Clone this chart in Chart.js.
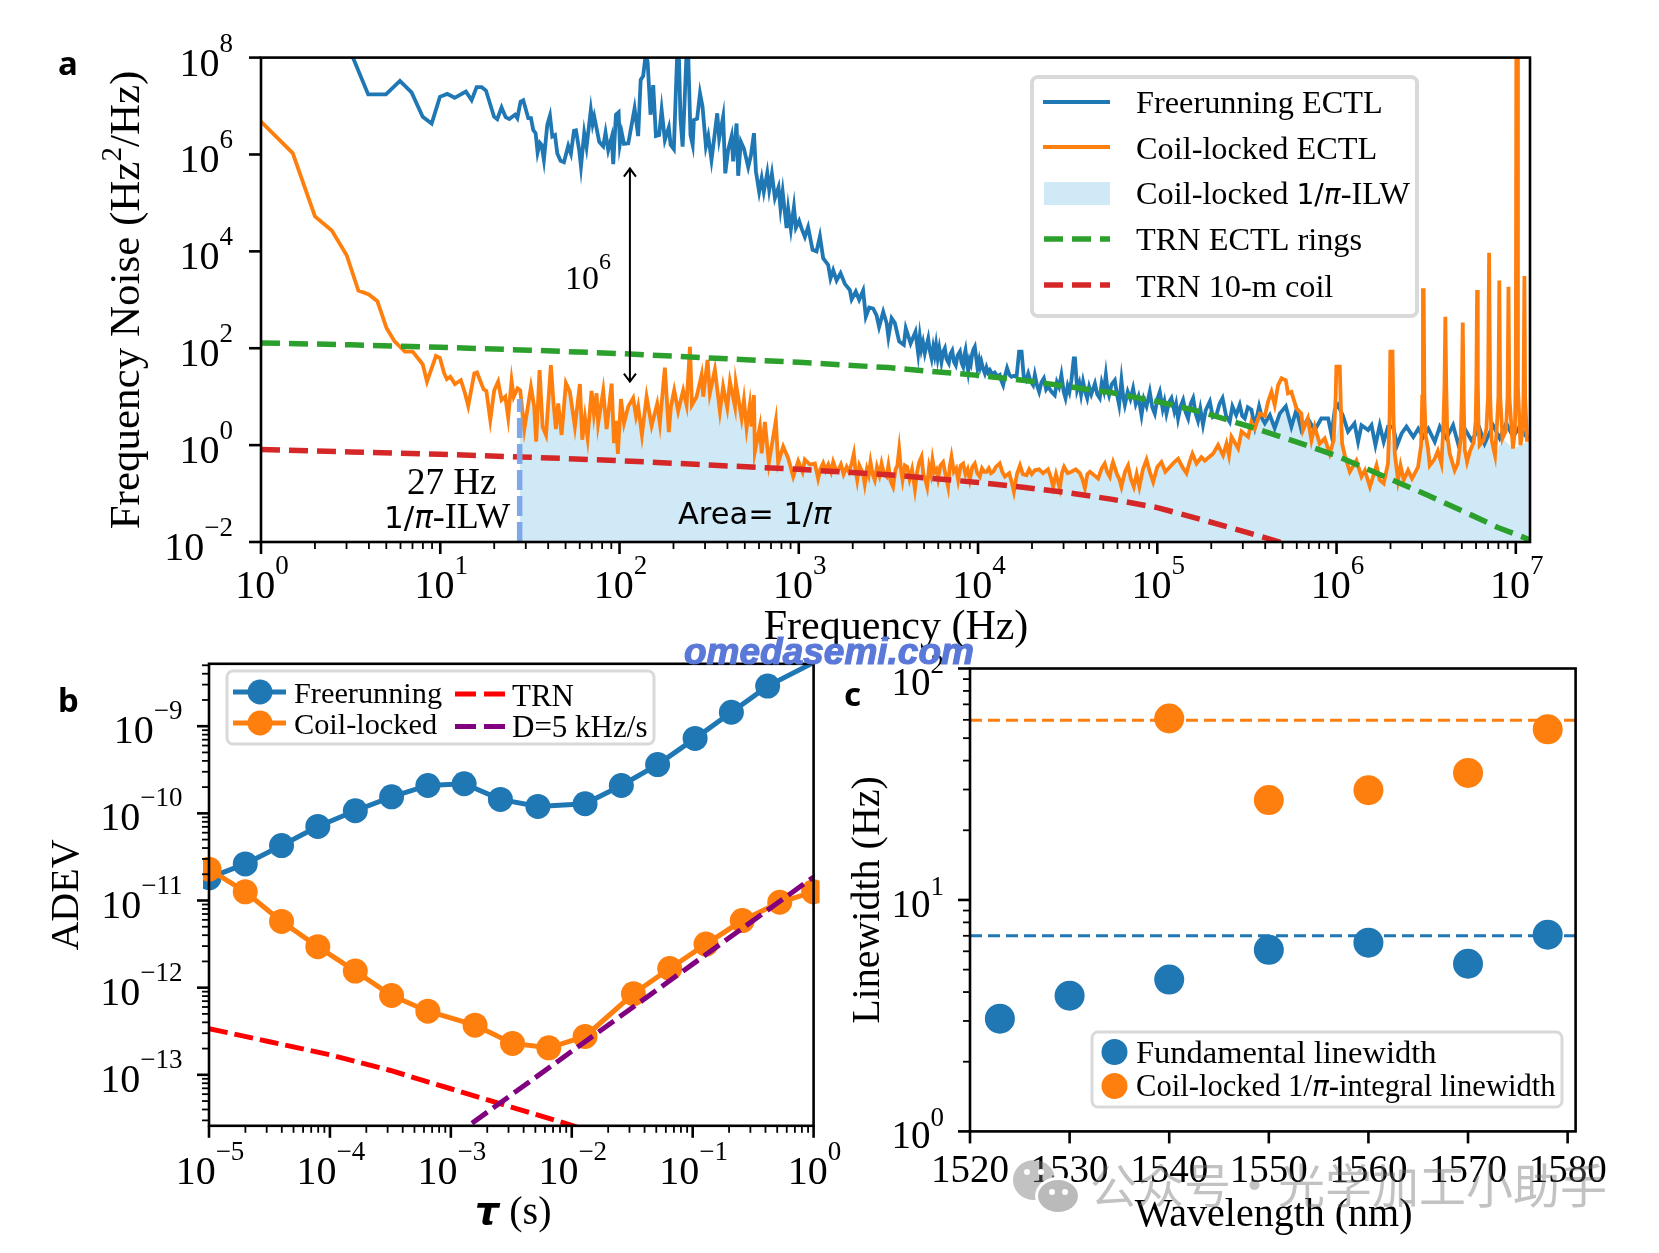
<!DOCTYPE html>
<html><head><meta charset="utf-8">
<style>html,body{margin:0;padding:0;background:#fff;width:1659px;height:1253px;overflow:hidden}
canvas{position:absolute;left:0;top:0}</style>
<script src="https://cdn.jsdelivr.net/npm/chart.js@4"></script>
</head><body>
<canvas id="ca" width="1659" height="1253"></canvas>
<canvas id="cb" width="1659" height="1253"></canvas>
<canvas id="cc" width="1659" height="1253"></canvas>
<script>
// ---------- Panel a: pairs of [log10 frequency (Hz), log10 noise (Hz^2/Hz)]
const freerunningA=[[0.47,8.38],[0.515,7.98],[0.598,7.24],[0.697,7.24],[0.775,7.52],[0.84,7.28],[0.902,6.78],[0.952,6.64],[0.998,7.19],[1.039,7.25],[1.08,7.17],[1.143,7.3],[1.175,7.12],[1.203,7.39],[1.231,7.39],[1.255,7.32],[1.3,6.78],[1.318,6.73],[1.342,6.97],[1.365,6.77],[1.385,6.73],[1.417,6.82],[1.43,6.75],[1.448,7.09],[1.463,7.12],[1.491,6.75],[1.506,6.75],[1.519,6.5],[1.532,6.44],[1.543,6.04],[1.556,6.24],[1.565,6.2],[1.578,5.89],[1.597,6.61],[1.612,6.8],[1.625,6.37],[1.64,6.4],[1.653,6.02],[1.671,5.87],[1.69,5.84],[1.714,6.18],[1.729,6.02],[1.746,6.49],[1.757,6.5],[1.775,6.09],[1.785,5.75],[1.803,6.44],[1.816,6.15],[1.84,6.92],[1.85,6.63],[1.859,6.78],[1.887,6.26],[1.909,6.17],[1.922,6.45],[1.937,6.09],[1.956,6.35],[1.965,5.8],[1.98,6.82],[1.995,6.87],[2.002,6.21],[2.013,6.44],[2.025,6.22],[2.049,6.23],[2.084,6.95],[2.104,6.38],[2.118,7.54],[2.132,7.62],[2.147,8.1],[2.157,7.9],[2.173,6.82],[2.188,7.43],[2.203,6.38],[2.221,6.4],[2.235,6.92],[2.253,6.3],[2.275,6.56],[2.285,6.2],[2.303,6.11],[2.322,8.1],[2.331,8.1],[2.34,6.75],[2.352,6.16],[2.362,7.0],[2.374,8.1],[2.383,8.1],[2.396,6.4],[2.408,6.2],[2.415,6.71],[2.433,6.74],[2.449,7.26],[2.463,6.99],[2.482,6.17],[2.495,6.38],[2.513,5.89],[2.527,6.3],[2.545,6.85],[2.556,6.33],[2.578,6.78],[2.59,5.61],[2.606,6.09],[2.625,6.37],[2.634,5.86],[2.653,6.64],[2.662,5.56],[2.677,6.26],[2.694,6.12],[2.718,5.74],[2.733,5.98],[2.75,6.44],[2.761,5.65],[2.779,5.23],[2.793,5.51],[2.805,5.23],[2.824,5.62],[2.835,5.27],[2.85,5.6],[2.867,5.1],[2.887,5.32],[2.898,4.89],[2.91,5.23],[2.932,4.48],[2.941,4.87],[2.956,4.46],[2.973,4.92],[2.984,4.49],[3.002,4.63],[3.016,4.47],[3.034,4.3],[3.052,4.5],[3.077,4.03],[3.099,4.0],[3.118,4.31],[3.136,3.86],[3.164,3.72],[3.177,3.44],[3.192,3.61],[3.211,3.4],[3.233,3.55],[3.257,3.33],[3.285,3.2],[3.295,3.01],[3.318,3.17],[3.337,3.0],[3.359,3.19],[3.374,2.65],[3.393,2.84],[3.415,2.82],[3.434,2.68],[3.448,2.44],[3.471,2.75],[3.49,2.52],[3.5,2.23],[3.518,2.62],[3.536,2.52],[3.56,2.14],[3.586,2.07],[3.597,2.41],[3.624,2.1],[3.651,2.34],
[3.666,1.9],[3.675,2.24],[3.684,1.98],[3.693,2.12],[3.703,1.9],[3.712,2.05],[3.722,2.2],[3.731,1.95],[3.741,1.79],[3.75,2.02],[3.758,1.86],[3.766,2.07],[3.775,1.8],[3.784,2.0],[3.796,1.72],[3.805,1.92],[3.815,2.0],[3.824,1.78],[3.837,1.69],[3.846,1.88],[3.856,1.95],[3.866,1.72],[3.876,1.65],[3.886,1.85],[3.899,1.93],[3.908,1.7],[3.917,1.62],[3.925,1.88],[3.93,1.96],[3.938,1.7],[3.945,1.52],[3.953,1.75],[3.96,1.68],[3.968,1.9],[3.975,1.98],[3.982,2.03],[3.99,1.8],[3.997,1.59],[4.006,1.75],[4.012,1.62],[4.019,1.72],[4.028,1.58],[4.038,1.48],[4.047,1.6],[4.056,1.5],[4.066,1.55],[4.08,1.46],[4.093,1.5],[4.108,1.42],[4.121,1.45],[4.13,1.33],[4.14,1.24],[4.15,1.42],[4.162,1.59],[4.175,1.45],[4.187,1.41],[4.2,1.43],[4.215,1.41],[4.229,1.93],[4.243,1.93],[4.255,1.41],[4.268,1.34],[4.28,1.48],[4.293,1.32],[4.307,1.24],[4.317,1.45],[4.33,1.22],[4.341,1.1],[4.354,1.3],[4.367,1.38],[4.38,1.15],[4.391,1.21],[4.41,1.1],[4.428,1.03],[4.44,1.3],[4.452,1.2],[4.465,1.45],[4.478,1.1],[4.488,0.97],[4.5,1.22],[4.51,1.1],[4.521,1.34],[4.534,1.79],[4.541,1.79],[4.553,1.14],[4.565,1.28],[4.575,1.05],[4.586,1.31],[4.598,1.1],[4.609,0.97],[4.62,1.2],[4.632,1.05],[4.652,1.27],[4.665,1.05],[4.679,0.97],[4.69,1.28],[4.702,1.12],[4.713,1.45],[4.722,1.15],[4.731,1.03],[4.745,1.25],[4.763,1.34],[4.775,1.05],[4.787,0.83],[4.8,1.34],[4.81,1.0],[4.819,0.83],[4.835,1.1],[4.85,0.95],[4.865,1.17],[4.88,0.85],[4.895,1.0],[4.912,0.62],[4.925,0.95],[4.94,0.8],[4.958,1.1],[4.972,0.78],[4.986,0.65],[5.0,0.95],[5.014,1.1],[5.03,0.75],[5.04,0.9],[5.051,0.65],[5.065,0.88],[5.079,0.97],[5.095,0.7],[5.105,0.85],[5.116,0.55],[5.13,0.8],[5.144,0.93],[5.158,0.68],[5.172,0.55],[5.186,0.85],[5.2,0.97],[5.214,0.65],[5.227,0.5],[5.24,0.75],[5.255,0.42],[5.27,0.72],[5.293,0.9],[5.31,0.58],[5.33,0.62],[5.347,0.85],[5.364,0.97],[5.384,0.6],[5.404,0.48],[5.419,0.8],[5.44,0.62],[5.46,0.83],[5.474,0.6],[5.488,0.55],[5.505,0.78],[5.525,0.73],[5.544,0.38],[5.568,0.8],[5.585,0.55],[5.6,0.45],
[5.628,0.62],[5.655,0.35],[5.683,0.65],[5.717,0.8],[5.748,0.38],[5.776,0.73],[5.804,0.31],[5.84,0.55],[5.878,0.31],[5.915,0.55],[5.953,0.55],[5.972,0.21],[5.99,0.73],[6.008,0.83],[6.036,0.6],[6.064,0.28],[6.1,0.45],[6.12,0.07],[6.139,0.41],[6.176,0.31],[6.195,0.41],[6.217,0.0],[6.241,0.41],[6.263,0.07],[6.287,0.38],[6.315,0.38],[6.338,0.0],[6.363,0.24],[6.39,0.38],[6.428,0.17],[6.456,0.34],[6.484,0.17],[6.512,0.34],[6.548,0.07],[6.576,0.38],[6.613,0.14],[6.65,0.41],[6.678,0.03],[6.715,0.34],[6.752,0.1],[6.798,0.34],[6.826,0.03],[6.873,0.41],[6.91,0.14],[6.947,0.45],[6.985,0.17],[7.02,0.38],[7.06,0.17],[7.07,0.2]];
const coilLockedA=[[0,6.68],[0.177,6.03],[0.301,4.72],[0.395,4.43],[0.478,3.92],[0.543,3.19],[0.602,3.11],[0.649,2.97],[0.7,2.42],[0.744,2.15],[0.803,1.93],[0.846,1.93],[0.902,1.67],[0.926,1.31],[0.976,1.84],[0.998,1.8],[1.022,1.48],[1.037,1.36],[1.056,1.41],[1.082,1.26],[1.115,1.34],[1.138,1.07],[1.156,0.81],[1.19,1.48],[1.205,1.5],[1.242,1.15],[1.257,1.12],[1.279,0.52],[1.301,1.13],[1.323,1.31],[1.342,0.93],[1.363,1.0],[1.379,0.57],[1.398,1.33],[1.41,1.0],[1.431,1.17],[1.446,1.13],[1.469,0.33],[1.506,1.2],[1.524,0.8],[1.535,0.07],[1.554,1.55],[1.571,0.38],[1.59,0.21],[1.617,1.65],[1.632,0.86],[1.645,0.33],[1.658,0.86],[1.677,0.21],[1.701,1.28],[1.723,1.1],[1.751,0.38],[1.779,1.26],[1.792,0.11],[1.807,0.57],[1.822,0.15],[1.844,1.12],[1.857,0.64],[1.872,1.07],[1.881,0.45],[1.909,1.12],[1.928,0.33],[1.956,1.27],[1.969,0.04],[1.98,0.5],[1.991,-0.18],[2.008,0.95],[2.025,0.45],[2.049,0.8],[2.076,0.97],[2.092,0.6],[2.104,0.8],[2.125,0.21],[2.151,1.0],[2.179,0.4],[2.21,0.85],[2.225,0.45],[2.253,1.6],[2.275,0.27],[2.287,0.8],[2.305,1.13],[2.327,0.7],[2.355,1.13],[2.374,0.83],[2.393,2.03],[2.404,0.83],[2.43,1.0],[2.458,1.45],[2.467,1.0],[2.491,1.76],[2.504,1.07],[2.532,1.56],[2.56,0.7],[2.578,1.21],[2.601,0.77],[2.616,1.31],[2.644,0.8],[2.649,1.28],[2.681,0.56],[2.694,0.93],[2.709,0.35],[2.727,0.83],[2.737,0.38],[2.75,1.03],[2.755,-0.14],[2.783,0.38],[2.793,-0.17],[2.811,0.48],[2.833,-0.37],[2.872,0.5],[2.885,-0.37],[2.913,-0.03],[2.941,-0.27],[2.969,-0.65],[2.997,-0.33],[3.021,-0.55],[3.034,-0.3],[3.062,-0.4],[3.09,-0.38],
[3.108,-0.69],[3.12,-0.5],[3.136,-0.37],[3.15,-0.52],[3.165,-0.4],[3.18,-0.55],[3.192,-0.35],[3.206,-0.5],[3.22,-0.52],[3.235,-0.4],[3.25,-0.6],[3.267,-0.45],[3.28,-0.55],[3.295,-0.38],[3.307,-0.18],[3.316,-0.5],[3.326,-0.72],[3.338,-0.42],[3.35,-0.52],[3.36,-0.62],[3.368,-0.8],[3.38,-0.5],[3.39,-0.62],[3.4,-0.35],[3.412,-0.6],[3.424,-0.72],[3.436,-0.45],[3.45,-0.62],[3.462,-0.38],[3.476,-0.6],[3.49,-0.65],[3.5,-0.42],[3.513,-0.75],[3.526,-0.86],[3.54,-0.5],[3.55,-0.42],[3.56,-0.09],[3.57,-0.5],[3.579,-0.72],[3.592,-0.42],[3.605,-0.45],[3.618,-0.7],[3.632,-0.5],[3.648,-0.91],[3.66,-0.55],[3.672,-0.35],[3.685,-0.24],[3.695,-0.6],[3.705,-0.7],[3.716,-0.86],[3.727,-0.45],[3.737,-0.6],[3.746,-0.3],[3.757,-0.55],[3.767,-0.5],[3.777,-0.69],[3.79,-0.42],[3.805,-0.35],[3.818,-0.6],[3.833,-0.86],[3.842,-0.45],[3.852,-0.24],[3.865,-0.55],[3.878,-0.48],[3.889,-0.72],[3.903,-0.42],[3.917,-0.38],[3.93,-0.6],[3.942,-0.5],[3.954,-0.72],[3.968,-0.45],[3.982,-0.38],[3.996,-0.58],[4.01,-0.65],[4.022,-0.48],[4.035,-0.55],[4.048,-0.55],[4.06,-0.48],[4.072,-0.58],[4.085,-0.55],[4.1,-0.45],[4.121,-0.38],[4.135,-0.55],[4.15,-0.65],[4.174,-0.58],[4.187,-0.75],[4.2,-0.96],[4.217,-0.6],[4.234,-0.42],[4.25,-0.6],[4.27,-0.62],[4.285,-0.5],[4.3,-0.6],[4.317,-0.52],[4.34,-0.5],[4.363,-0.58],[4.39,-0.5],[4.405,-0.65],[4.419,-0.86],[4.435,-0.6],[4.456,-0.89],[4.468,-0.58],[4.48,-0.45],[4.5,-0.58],[4.521,-0.55],[4.545,-0.5],[4.568,-0.58],[4.582,-0.7],[4.596,-0.89],[4.61,-0.6],[4.624,-0.55],[4.647,-0.62],[4.67,-0.69],[4.69,-0.48],[4.707,-0.38],[4.72,-0.55],[4.735,-0.65],[4.745,-0.45],[4.753,-0.35],[4.775,-0.6],[4.788,-0.7],[4.8,-0.86],[4.82,-0.55],[4.837,-0.42],[4.853,-0.7],[4.869,-0.86],[4.885,-0.6],[4.9,-0.86],[4.92,-0.5],[4.94,-0.3],[4.958,-0.55],[4.977,-0.76],[5.0,-0.45],[5.023,-0.35],[5.045,-0.55],[5.07,-0.45],[5.095,-0.35],[5.116,-0.28],[5.14,-0.45],[5.163,-0.58],[5.18,-0.35],[5.196,-0.18],
[5.219,-0.38],[5.246,-0.25],[5.265,-0.32],[5.311,-0.18],[5.339,0.0],[5.367,-0.21],[5.386,0.03],[5.4,-0.21],[5.414,0.17],[5.451,-0.07],[5.47,0.28],[5.507,0.17],[5.525,0.48],[5.544,0.34],[5.572,0.65],[5.6,0.6],[5.618,0.9],[5.637,1.1],[5.655,0.83],[5.674,1.24],[5.693,1.38],[5.717,1.34],[5.729,1.07],[5.748,1.1],[5.776,0.76],[5.804,0.65],[5.813,0.31],[5.84,0.55],[5.86,0.1],[5.878,0.38],[5.906,0.03],[5.934,0.14],[5.962,-0.18],[5.984,0.1],[5.995,1.0],[5.999,1.62],[6.018,1.62],[6.024,0.8],[6.031,0.03],[6.046,-0.21],[6.074,-0.55],[6.111,-0.32],[6.139,-0.65],[6.158,-0.52],[6.186,-0.86],[6.223,-0.42],[6.241,-0.72],[6.263,-0.79],[6.287,-0.38],[6.296,0.6],[6.3,1.93],[6.312,1.93],[6.318,0.5],[6.325,-0.18],[6.343,-0.72],[6.357,-0.42],[6.375,-0.72],[6.399,-0.52],[6.421,-0.69],[6.455,-0.45],[6.472,0.0],[6.478,1.0],[6.482,3.2],[6.486,3.2],[6.49,1.0],[6.497,0.2],[6.51,-0.07],[6.52,-0.42],[6.545,-0.3],[6.565,-0.12],[6.585,-0.38],[6.595,0.3],[6.602,1.2],[6.607,2.65],[6.612,1.2],[6.618,0.2],[6.631,-0.17],[6.659,-0.52],[6.676,-0.38],[6.692,0.1],[6.699,1.0],[6.704,2.53],[6.709,1.0],[6.715,-0.1],[6.728,-0.35],[6.743,-0.14],[6.766,0.07],[6.776,0.5],[6.78,1.3],[6.784,3.2],[6.788,1.3],[6.792,0.4],[6.798,0.0],[6.82,0.1],[6.836,0.34],[6.845,1.0],[6.851,3.97],[6.857,1.0],[6.865,0.1],[6.884,-0.21],[6.893,0.3],[6.903,1.0],[6.908,3.4],[6.913,1.0],[6.926,0.14],[6.945,0.3],[6.954,1.0],[6.959,3.27],[6.964,1.0],[6.984,-0.07],[6.995,0.3],[7.0,1.5],[7.003,8.5],[7.007,8.5],[7.012,1.2],[7.026,0.0],[7.038,0.3],[7.043,1.0],[7.048,3.49],[7.052,1.0],[7.063,0.07]];
const fillTailA=[[5.6,0.45],[5.628,0.62],[5.655,0.35],[5.683,0.65],[5.717,0.8],[5.748,0.38],[5.776,0.73],[5.804,0.31],[5.84,0.55],[5.86,0.1],[5.878,0.31],[5.906,0.03],[5.934,0.14],[5.962,-0.18],[5.99,0.1],[6.018,0.5],[6.036,0.03],[6.046,-0.21],[6.074,-0.55],[6.111,-0.32],[6.139,-0.65],[6.158,-0.52],[6.186,-0.86],[6.223,-0.42],[6.241,-0.72],[6.263,-0.79],[6.287,-0.38],[6.3,0.2],[6.325,-0.18],[6.343,-0.72],[6.357,-0.42],[6.375,-0.72],[6.399,-0.52],[6.421,-0.69],[6.455,-0.45],[6.475,0.2],[6.51,-0.07],[6.52,-0.42],[6.565,-0.12],[6.585,-0.38],[6.607,0.1],[6.631,-0.17],[6.659,-0.52],[6.676,-0.38],[6.696,0.1],[6.715,-0.35],[6.743,-0.14],[6.766,0.07],[6.798,0.0],[6.836,0.2],[6.884,-0.21],[6.926,0.14],[6.984,-0.07],[7.026,0.0],[7.063,0.07],[7.08,0.1]];
const trnRingsA=[[0,2.11],[0.5,2.07],[1,2.02],[1.5,1.96],[2,1.89],[2.5,1.8],[3,1.71],[3.5,1.6],[4,1.44],[4.25,1.34],[4.5,1.21],[4.75,1.08],[5,0.9],[5.25,0.68],[5.5,0.4],[5.75,0.1],[6,-0.22],[6.25,-0.62],[6.5,-1.02],[6.75,-1.44],[6.9,-1.7],[7,-1.84],[7.08,-1.96]];
const trnCoilA=[[0,-0.09],[0.5,-0.14],[1,-0.19],[1.5,-0.25],[2,-0.32],[2.5,-0.41],[3,-0.5],[3.5,-0.61],[4,-0.77],[4.25,-0.87],[4.5,-0.98],[4.75,-1.12],[5,-1.29],[5.25,-1.54],[5.5,-1.8],[5.7,-2.02]];
const ilwMarkerA=[[1.443,-2],[1.443,0.95]];
const arrowA={logF:2.058,logLow:1.31,logHigh:5.71};
const xTicksA=[1,1e1,1e2,1e3,1e4,1e5,1e6,1e7];
const yTicksA=[1e-2,1,1e2,1e4,1e6,1e8];
// ---------- Panel b: pairs of [log10 tau (s), log10 ADEV]
const freerunningB=[[-5,-10.74],[-4.7,-10.58],[-4.4,-10.37],[-4.1,-10.15],[-3.79,-9.97],[-3.49,-9.81],[-3.19,-9.68],[-2.89,-9.66],[-2.59,-9.84],[-2.28,-9.92],[-1.89,-9.89],[-1.59,-9.68],[-1.29,-9.44],[-0.98,-9.14],[-0.68,-8.84],[-0.38,-8.54],[0,-8.27]];
const coilLockedB=[[-5,-10.64],[-4.7,-10.9],[-4.4,-11.24],[-4.1,-11.53],[-3.79,-11.81],[-3.49,-12.09],[-3.19,-12.27],[-2.8,-12.43],[-2.49,-12.64],[-2.19,-12.69],[-1.89,-12.56],[-1.49,-12.07],[-1.19,-11.78],[-0.89,-11.5],[-0.59,-11.23],[-0.28,-11.02],[0,-10.9]];
const trnB=[[-5,-12.47],[-4.5,-12.62],[-4,-12.77],[-3.5,-12.95],[-3,-13.16],[-2.5,-13.37],[-2,-13.58],[-1.9,-13.63]];
const driftB=[[-3,-13.73],[-2.85,-13.58],[-2,-12.73],[-1,-11.73],[0,-10.73]];
const xTicksB=[1e-5,1e-4,1e-3,1e-2,1e-1,1];
const yTicksB=[1e-13,1e-12,1e-11,1e-10,1e-9];
// ---------- Panel c
const wavelengths=[1523,1530,1540,1550,1560,1570,1578];
const fundamental=[3.07,3.86,4.53,6.09,6.54,5.30,7.08];
const coilIntegralWl=[1540,1550,1560,1570,1578];
const coilIntegral=[60.8,27.0,29.8,35.4,54.6];
const fundamentalRef=7.0, integralRef=59.8;
const xTicksC=[1520,1530,1540,1550,1560,1570,1580];
const yTicksC=[1,10,100];

const BLUE='#1f77b4',ORANGE='#ff7f0e',GREEN='#2ca02c',RED='#d62728',FILL='#cfe9f6';
const SERIF='"Liberation Serif"',SANS='"DejaVu Sans"';
const F=s=>`${s}px ${SERIF}`;
const pts=a=>a.map(([x,y])=>({x:10**x,y:10**y}));
Chart.defaults.font.family=SERIF;

function rich(ctx,x,y,segs,align,rot){
  ctx.save();ctx.translate(x,y);if(rot)ctx.rotate(rot);
  ctx.textAlign='left';ctx.textBaseline='alphabetic';ctx.fillStyle='#000';
  let w=0;for(const s of segs){ctx.font=s[1];w+=ctx.measureText(s[0]).width;}
  let cx=align==='center'?-w/2:align==='right'?-w:0;
  for(const s of segs){ctx.font=s[1];ctx.fillStyle=s[3]||'#000';ctx.fillText(s[0],cx,-(s[2]||0));cx+=ctx.measureText(s[0]).width;}
  ctx.restore();
}
function sup(n){return n<0?'\u2212'+(-n):String(n);}
function lab10(e,size,exps,raise){return [['10',F(size)],[sup(e),F(exps),raise]];}
function tickline(ctx,x1,y1,x2,y2){ctx.beginPath();ctx.moveTo(x1,y1);ctx.lineTo(x2,y2);ctx.stroke();}

function axes(chart,o){
  const {ctx,chartArea:a,scales:{x,y}}=chart;
  ctx.save();ctx.strokeStyle='#000';ctx.lineWidth=o.lw||2.6;ctx.lineCap='butt';
  ctx.strokeRect(a.left,a.top,a.right-a.left,a.bottom-a.top);
  x.ticks.forEach(t=>{const p=x.getPixelForValue(t.value);tickline(ctx,p,a.bottom,p,a.bottom+12);
    if(o.logX){rich(ctx,p+1,a.bottom+o.xBase,lab10(Math.round(Math.log10(t.value)),o.size,o.expSize,24),'center');}
    else{rich(ctx,p,a.bottom+o.xBase,[[String(t.value),F(o.size)]],'center');}
  });
  ctx.lineWidth=1.8;
  if(o.logX){for(let e=Math.floor(Math.log10(x.min));e<=Math.ceil(Math.log10(x.max));e++)for(let m=2;m<10;m++){const v=m*10**e;if(v<=x.max&&v>=x.min){const p=x.getPixelForValue(v);tickline(ctx,p,a.bottom,p,a.bottom+7);}}}
  if(o.minorY){for(let e=Math.floor(Math.log10(y.min));e<=Math.ceil(Math.log10(y.max));e++)for(let m=2;m<10;m++){const v=m*10**e;if(v<=y.max&&v>=y.min){const p=y.getPixelForValue(v);tickline(ctx,a.left-7,p,a.left,p);}}}
  ctx.lineWidth=o.lw||2.6;
  y.ticks.forEach((t,i)=>{const p=y.getPixelForValue(t.value);tickline(ctx,a.left-12,p,a.left,p);
    const extra=(o.topDrop&&t.value===y.max)?o.topDrop:0;
    rich(ctx,a.left-o.yOff,p+o.yDrop+extra,lab10(Math.round(Math.log10(t.value)),o.size,o.expSize,o.yRaise||24),'right');
  });
  ctx.restore();
}
function legendBox(ctx,x,y,w,h,lw){ctx.save();ctx.beginPath();ctx.roundRect(x,y,w,h,6);ctx.fillStyle='rgba(255,255,255,.85)';ctx.fill();ctx.strokeStyle='#d9d9d9';ctx.lineWidth=lw;ctx.stroke();ctx.restore();}
function legLine(ctx,x1,x2,y,c,lw,dash){ctx.save();ctx.strokeStyle=c;ctx.lineWidth=lw;ctx.setLineDash(dash||[]);ctx.beginPath();ctx.moveTo(x1,y);ctx.lineTo(x2,y);ctx.stroke();ctx.restore();}
function dot(ctx,x,y,r,c){ctx.save();ctx.fillStyle=c;ctx.beginPath();ctx.arc(x,y,r,0,Math.PI*2);ctx.fill();ctx.restore();}

const logScale=(min,max,ticks)=>({type:'logarithmic',min,max,
  ticks:{display:false,autoSkip:false},grid:{display:false,drawTicks:false},border:{display:false},
  afterBuildTicks:s=>{s.ticks=ticks.map(v=>({value:v}));},
  afterFit:s=>{if(s.isHorizontal())s.height=0;else s.width=0;}});
const baseOpts=(l,t,r,b,scales)=>({responsive:false,animation:false,devicePixelRatio:1,events:[],
  layout:{autoPadding:false,padding:{left:l,top:t,right:1659-r,bottom:1253-b}},
  plugins:{legend:{display:false},tooltip:{enabled:false}},scales});
const lineDs=(label,data,color,width,dash,order,extra)=>Object.assign({label,data:pts(data),borderColor:color,backgroundColor:color,borderWidth:width,borderDash:dash||[],pointRadius:0,tension:0,fill:false,order},extra||{});

// ---------- Panel a
const fillTopA=[[1.443,1.15],...coilLockedA.filter(p=>p[0]>=1.445&&p[0]<5.6),...fillTailA];
new Chart(document.getElementById('ca'),{type:'line',
 data:{datasets:[
  lineDs('Coil-locked 1/\u03c0-ILW',fillTopA,'rgba(0,0,0,0)',0,null,6,{fill:'start',backgroundColor:FILL}),
  lineDs('Freerunning ECTL',freerunningA,BLUE,3.8,null,5),
  lineDs('Coil-locked ECTL',coilLockedA,ORANGE,3.8,null,4),
  lineDs('TRN ECTL rings',trnRingsA,GREEN,5.5,[19,9],3),
  lineDs('TRN 10-m coil',trnCoilA,RED,5.5,[19,9],2),
  lineDs('27 Hz',ilwMarkerA,'#7fa8e8',5.5,[20,6],1)
 ]},
 options:baseOpts(261,57.6,1530,542,{x:logScale(1,1.2e7,xTicksA),y:logScale(1e-2,1e8,yTicksA)}),
 plugins:[{id:'a',afterDraw(ch){
  const c=ch.ctx;
  axes(ch,{logX:true,size:40,expSize:27,xBase:56,yOff:28,yDrop:18});
  rich(c,139,300,[['Frequency Noise (Hz',F(43)],['2',F(29),18],['/Hz)',F(43)]],'center',-Math.PI/2);
  rich(c,896,639,[['Frequency (Hz)',F(42)]],'center');
  rich(c,58,75,[['a',`bold 33px "Noto Sans"`]],'left');
  const ax=ch.scales.x.getPixelForValue(10**arrowA.logF),y1=ch.scales.y.getPixelForValue(10**arrowA.logHigh),y2=ch.scales.y.getPixelForValue(10**arrowA.logLow);
  c.save();c.strokeStyle='#000';c.lineWidth=2;
  c.beginPath();c.moveTo(ax,y1);c.lineTo(ax,y2);c.moveTo(ax-6,y1+8);c.lineTo(ax,y1);c.lineTo(ax+6,y1+8);c.moveTo(ax-6,y2-8);c.lineTo(ax,y2);c.lineTo(ax+6,y2-8);c.stroke();c.restore();
  rich(c,565,289,[['10',F(34)],['6',F(24),20]],'left');
  rich(c,407,494,[['27 Hz',F(37)]],'left');
  rich(c,384,528,[['1/',`31px ${SANS}`],['\u03c0',`italic 31px ${SANS}`],['-ILW',F(36)]],'left');
  rich(c,678,524,[['Area= 1/',`30.5px ${SANS}`],['\u03c0',`italic 30.5px ${SANS}`]],'left');
  legendBox(c,1032,77,385,239,4);
  legLine(c,1043,1110,102,BLUE,3.8);legLine(c,1043,1110,147,ORANGE,3.8);
  c.fillStyle=FILL;c.fillRect(1044,182,66,23);
  legLine(c,1044,1110,239,GREEN,5.5,[19,9]);legLine(c,1044,1110,285,RED,5.5,[19,9]);
  rich(c,1136,113,[['Freerunning ECTL',F(32.3)]]);
  rich(c,1136,159,[['Coil-locked ECTL',F(32.3)]]);
  rich(c,1136,204,[['Coil-locked ',F(32.3)],['1/',`28px ${SANS}`],['\u03c0',`italic 28px ${SANS}`],['-ILW',F(32.3)]]);
  rich(c,1136,250,[['TRN ECTL rings',F(32.3)]]);
  rich(c,1136,297,[['TRN 10-m coil',F(32.3)]]);
 }}]});

// ---------- Panel b
const noTailRadius=(r,n)=>ctx=>ctx.dataIndex===n?0:r;
new Chart(document.getElementById('cb'),{type:'line',
 data:{datasets:[
  lineDs('TRN',trnB,'#ff0000',5,[19,7],4),
  lineDs('D=5 kHz/s',driftB,'#800080',5,[19,7],1),
  lineDs('Freerunning',freerunningB,BLUE,5,null,3,{pointRadius:noTailRadius(12.5,freerunningB.length-1),pointBackgroundColor:BLUE,pointBorderWidth:0,clip:{left:6,right:6,top:0,bottom:0}}),
  lineDs('Coil-locked',coilLockedB,ORANGE,5,null,2,{pointRadius:12.5,pointBackgroundColor:ORANGE,pointBorderWidth:0,clip:{left:6,right:6,top:0,bottom:0}})
 ]},
 options:baseOpts(209,663.8,813.6,1125.8,{x:logScale(1e-5,1,xTicksB),y:logScale(2.6e-14,5.2e-9,yTicksB)}),
 plugins:[{id:'b',afterDraw(ch){
  const c=ch.ctx;
  axes(ch,{logX:true,minorY:true,size:40,expSize:27,xBase:58,yOff:26.4,yDrop:17});
  rich(c,78,895,[['ADEV',F(40)]],'center',-Math.PI/2);
  rich(c,475,1224,[['\u03c4',`italic bold 38px ${SANS}`],[' (s)',F(40)]],'left');
  rich(c,58,712,[['b',`bold 33px "Noto Sans"`]],'left');
  legendBox(c,227,671,427,73,3);
  legLine(c,233,286,692,BLUE,5);dot(c,260,692,12.5,BLUE);
  legLine(c,233,286,723,ORANGE,5);dot(c,260,723,12.5,ORANGE);
  legLine(c,455,506,694,'#ff0000',5,[21,8]);legLine(c,455,506,726.5,'#800080',5,[21,8]);
  rich(c,294,703,[['Freerunning',F(30.3)]]);
  rich(c,294,734,[['Coil-locked',F(30.3)]]);
  rich(c,512,705.5,[['TRN',F(31)]]);
  rich(c,512,737,[['D=5 kHz/s',F(31)]]);
 }}]});

// ---------- Panel c
const xy=(xs,ys)=>xs.map((x,i)=>({x,y:ys[i]}));
new Chart(document.getElementById('cc'),{type:'scatter',
 data:{datasets:[
  {type:'line',label:'blue ref',data:[{x:1520,y:fundamentalRef},{x:1581,y:fundamentalRef}],borderColor:BLUE,borderWidth:3,borderDash:[12,6],pointRadius:0,order:3},
  {type:'line',label:'orange ref',data:[{x:1520,y:integralRef},{x:1581,y:integralRef}],borderColor:ORANGE,borderWidth:3,borderDash:[12,6],pointRadius:0,order:3},
  {label:'Fundamental linewidth',data:xy(wavelengths,fundamental),backgroundColor:BLUE,borderWidth:0,pointRadius:15,order:1},
  {label:'Coil-locked 1/\u03c0-integral linewidth',data:xy(coilIntegralWl,coilIntegral),backgroundColor:ORANGE,borderWidth:0,pointRadius:15,order:1}
 ]},
 options:baseOpts(970,668.5,1575.6,1131.4,{
  x:{type:'linear',min:1520,max:1580.8,ticks:{display:false,autoSkip:false},grid:{display:false,drawTicks:false},border:{display:false},
     afterBuildTicks:s=>{s.ticks=xTicksC.map(v=>({value:v}));},afterFit:s=>{s.height=0;}},
  y:logScale(1,100,yTicksC)}),
 plugins:[{id:'c',afterDraw(ch){
  const c=ch.ctx;
  axes(ch,{logX:false,minorY:true,size:39,expSize:27,xBase:51,yOff:26,yDrop:17,yRaise:22,topDrop:9});
  rich(c,878.6,900,[['Linewidth (Hz)',F(40)]],'center',-Math.PI/2);
  rich(c,1273.6,1226,[['Wavelength (nm)',F(40)]],'center');
  rich(c,844,706,[['c',`bold 33px "Noto Sans"`]],'left');
  legendBox(c,1092,1032,470,75,3);
  dot(c,1114.5,1052,13,BLUE);dot(c,1114.5,1086,13,ORANGE);
  rich(c,1136,1063,[['Fundamental linewidth',F(32.5)]]);
  rich(c,1136,1095.6,[['Coil-locked 1/',F(30.6)],['\u03c0',`italic 28px ${SANS}`],['-integral linewidth',F(30.6)]]);
  c.save();
  c.font='italic bold 37px "Liberation Sans"';c.strokeStyle='#5a78d8';c.lineWidth=1.2;c.strokeText('omedasemi.com',684,664);
  rich(c,684,664,[['omedasemi.com','italic bold 37px "Liberation Sans"',0,'#5a78d8']]);
  c.globalAlpha=.42;
  c.fillStyle='#6e6e6e';
  c.beginPath();c.ellipse(1034,1180,21,20,0,0,Math.PI*2);c.fill();
  c.globalAlpha=1;c.fillStyle='#fff';c.beginPath();c.ellipse(1058,1196,23,19,0,0,Math.PI*2);c.fill();
  c.globalAlpha=.48;c.fillStyle='#6e6e6e';c.beginPath();c.ellipse(1058,1196,20,16,0,0,Math.PI*2);c.fill();
  c.globalAlpha=1;c.fillStyle='#fff';[[1027,1172],[1041,1172],[1052,1192],[1065,1192]].forEach(p=>{c.beginPath();c.arc(p[0],p[1],3,0,7);c.fill();});
  c.globalAlpha=.42;
  rich(c,1090,1203,[['\u516c\u4f17\u53f7\u00b7\u5149\u5b66\u52a0\u5de5\u5c0f\u52a9\u624b','47px "Noto Sans CJK SC"',0,'#6e6e6e']]);
  c.restore();
 }}]});
</script>
</body></html>
